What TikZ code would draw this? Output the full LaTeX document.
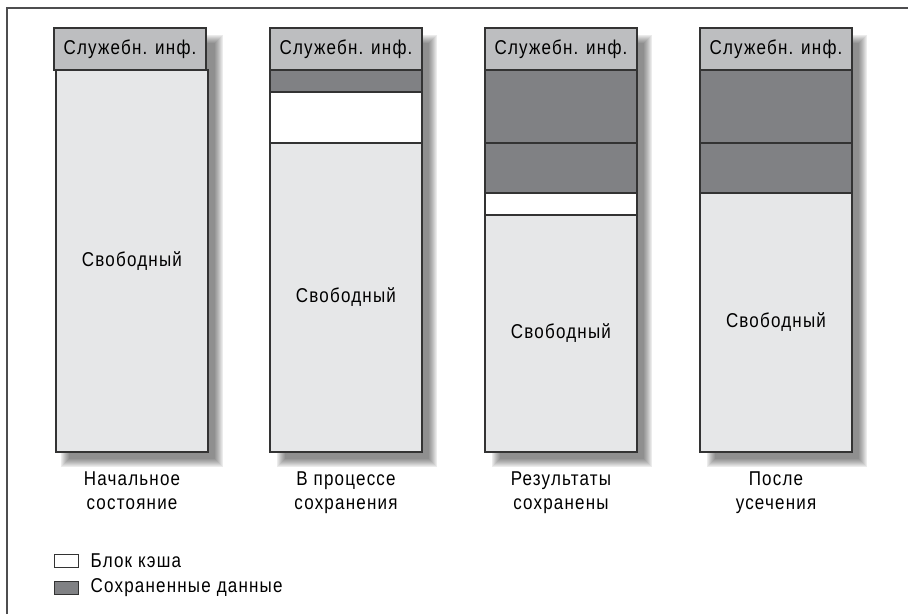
\documentclass[tikz,border=0pt]{standalone}
\usepackage{fontspec}
\setmainfont[FakeStretch=0.85,LetterSpace=6]{Liberation Sans}
\usetikzlibrary{positioning}
\definecolor{framegray}{HTML}{4D4D4F}
\definecolor{headgray}{HTML}{BDBEC0}
\definecolor{freegray}{HTML}{E6E7E8}
\definecolor{savedgray}{HTML}{808184}
\definecolor{edgegray}{HTML}{333333}

\begin{document}
\begin{tikzpicture}[
  x=1pt, y=-1pt,
  font=\fontsize{20}{24}\selectfont,
  seg/.style={draw=edgegray, line width=1.1pt, minimum width=152pt,
              inner sep=0pt, outer sep=0pt},
  head/.style={seg, fill=headgray, minimum height=42pt},
  saved/.style={seg, fill=savedgray},
  cache/.style={seg, fill=white},
  free/.style={seg, fill=freegray},
  caption/.style={align=center, below=16pt},
  key/.style={draw=edgegray, line width=1.1pt, minimum width=24pt,
              minimum height=13pt, inner sep=0pt, anchor=west}
]
\useasboundingbox (0,0) rectangle (908,614);
\draw[framegray, line width=1.3pt] (7,614) -- (7,8) -- (908,8);

% soft drop shadows behind the four columns
\foreach \xl/\xr in {54/208, 270/422, 485/637, 700/852}{
  \foreach \st/\tone in {-4/8, -3/13, -2/18, -1/23, 0/28, 1/32, 2/36, 3/40, 4/44}{
    \fill[black!\tone] (\xl+11+\st, 39+\st) rectangle (\xr+11-\st, 463-\st);
  }
}

% Initial state
\node[head, anchor=north] (h1) at (130,28) {Служебн. инф.};
\node[free, minimum height=382pt, below=0pt of h1, xshift=2pt] (f1) {Свободный};
\node[caption] (c1) at (f1.south) {Начальное\\состояние};

% While saving
\node[head, anchor=north] (h2) at (346,28) {Служебн. инф.};
\node[saved, minimum height=22pt, below=0pt of h2] (s2) {};
\node[cache, minimum height=51pt, below=0pt of s2] (k2) {};
\node[free, minimum height=309pt, below=0pt of k2] (f2) {Свободный};
\node[caption] (c2) at (f2.south) {В процессе\\сохранения};

% Results saved
\node[head, anchor=north] (h3) at (561,28) {Служебн. инф.};
\node[saved, minimum height=73pt, below=0pt of h3] (s3) {};
\node[saved, minimum height=50pt, below=0pt of s3] (t3) {};
\node[cache, minimum height=22pt, below=0pt of t3] (k3) {};
\node[free, minimum height=237pt, below=0pt of k3] (f3) {Свободный};
\node[caption] (c3) at (f3.south) {Результаты\\сохранены};

% After truncation
\node[head, anchor=north] (h4) at (776,28) {Служебн. инф.};
\node[saved, minimum height=73pt, below=0pt of h4] (s4) {};
\node[saved, minimum height=50pt, below=0pt of s4] (t4) {};
\node[free, minimum height=259pt, below=0pt of t4] (f4) {Свободный};
\node[caption] (c4) at (f4.south) {После\\усечения};

% Legend
\node[key, fill=white] (kc) at (54,561) {};
\node[right=8pt of kc] {Блок кэша};
\node[key, fill=savedgray] (ks) at (54,588) {};
\node[right=8pt of ks] {Сохраненные данные};
\end{tikzpicture}
\end{document}
